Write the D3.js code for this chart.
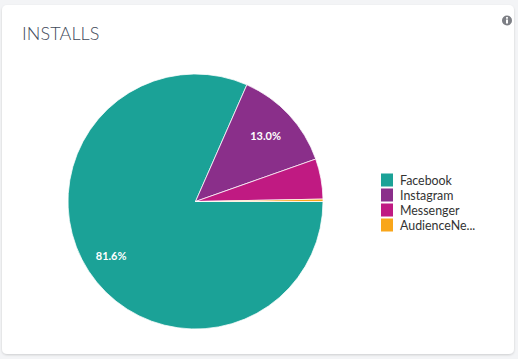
<!DOCTYPE html>
<html>
<head>
<meta charset="utf-8">
<script src="https://cdn.jsdelivr.net/npm/d3@7"></script>
<style>
html, body { margin: 0; padding: 0; background: #f3f4f6; }
svg { display: block; }
text { font-family: Lato, "Open Sans", sans-serif; }
</style>
</head>
<body>
<svg class="chart"></svg>
<script>
const categories = ['Facebook', 'Instagram', 'Messenger', 'AudienceNe...']
const values = [81.6, 13.0, 5.1, 0.3]
const colors = ['#1ba297', '#8a2f8a', '#c01a82', '#f9a61a']
const showLabel = [true, true, false, false]

const width = 518
const height = 359
const svg = d3.select('.chart')
    .attr('width', width)
    .attr('height', height)

const defs = svg.append('defs')
const shadow = defs.append('filter').attr('id', 'card-shadow')
    .attr('x', '-2%').attr('y', '-2%').attr('width', '104%').attr('height', '104%')
shadow.append('feDropShadow')
    .attr('dx', 0).attr('dy', 1).attr('stdDeviation', 1.2)
    .attr('flood-color', '#000').attr('flood-opacity', 0.16)

//card
svg.append('rect')
    .attr('x', 2).attr('y', 5)
    .attr('width', 512).attr('height', 349)
    .attr('rx', 5)
    .attr('fill', '#fff')
    .attr('filter', 'url(#card-shadow)')

//title
svg.append('text')
    .attr('x', 22).attr('y', 40)
    .attr('font-size', 18)
    .attr('letter-spacing', 0.1)
    .attr('font-weight', 300)
    .attr('fill', '#3f4a5a')
    .text('INSTALLS')

//info icon
const info = svg.append('g').attr('transform', 'translate(507,20.5)')
info.append('circle').attr('r', 5).attr('fill', '#7d7f85')
info.append('rect').attr('x', -1).attr('y', -1).attr('width', 2).attr('height', 4).attr('fill', '#fff')
info.append('rect').attr('x', -1).attr('y', -3.4).attr('width', 2).attr('height', 1.6).attr('fill', '#fff')

//pie
const radius = 127.5
const g = svg.append('g').attr('transform', 'translate(195.5,201.5)')

const pie = d3.pie()
    .sort(null)
    .startAngle(Math.PI / 2)
    .endAngle(Math.PI / 2 + 2 * Math.PI)

const arc = d3.arc().innerRadius(0).outerRadius(radius)

const slices = pie(values)

g.selectAll('path')
    .data(slices)
    .enter()
    .append('path')
    .attr('d', arc)
    .attr('fill', (d, i) => colors[i])
    .attr('stroke', '#fff')
    .attr('stroke-opacity', 0.75)
    .attr('stroke-width', 1)

// big slice label sits a bit further out
const labelPos = d => {
    const r = radius * (d.index === 0 ? 0.79 : 0.75)
    return d3.arc().innerRadius(r).outerRadius(r).centroid(d)
}

const pct = d3.format('.1f')
g.selectAll('text')
    .data(slices.filter((d, i) => showLabel[i]))
    .enter()
    .append('text')
    .attr('transform', d => `translate(${labelPos(d)})`)
    .attr('text-anchor', 'middle')
    .attr('dy', '0.35em')
    .attr('font-size', 11)
    .attr('font-weight', 700)
    .attr('fill', '#fff')
    .text(d => pct(d.data) + '%')

//legend
const legendY = d3.scaleBand()
    .domain(categories)
    .range([172.5, 232.5])
    .padding(0)

const legend = svg.append('g')
const items = legend.selectAll('g')
    .data(categories)
    .enter()
    .append('g')
    .attr('transform', d => `translate(381,${legendY(d)})`)

items.append('rect')
    .attr('y', 1)
    .attr('width', 12)
    .attr('height', 13)
    .attr('fill', (d, i) => colors[i])

items.append('text')
    .attr('x', 19)
    .attr('y', 12)
    .attr('font-size', 12.4)
    .attr('fill', '#333')
    .text(d => d)
</script>
</body>
</html>
